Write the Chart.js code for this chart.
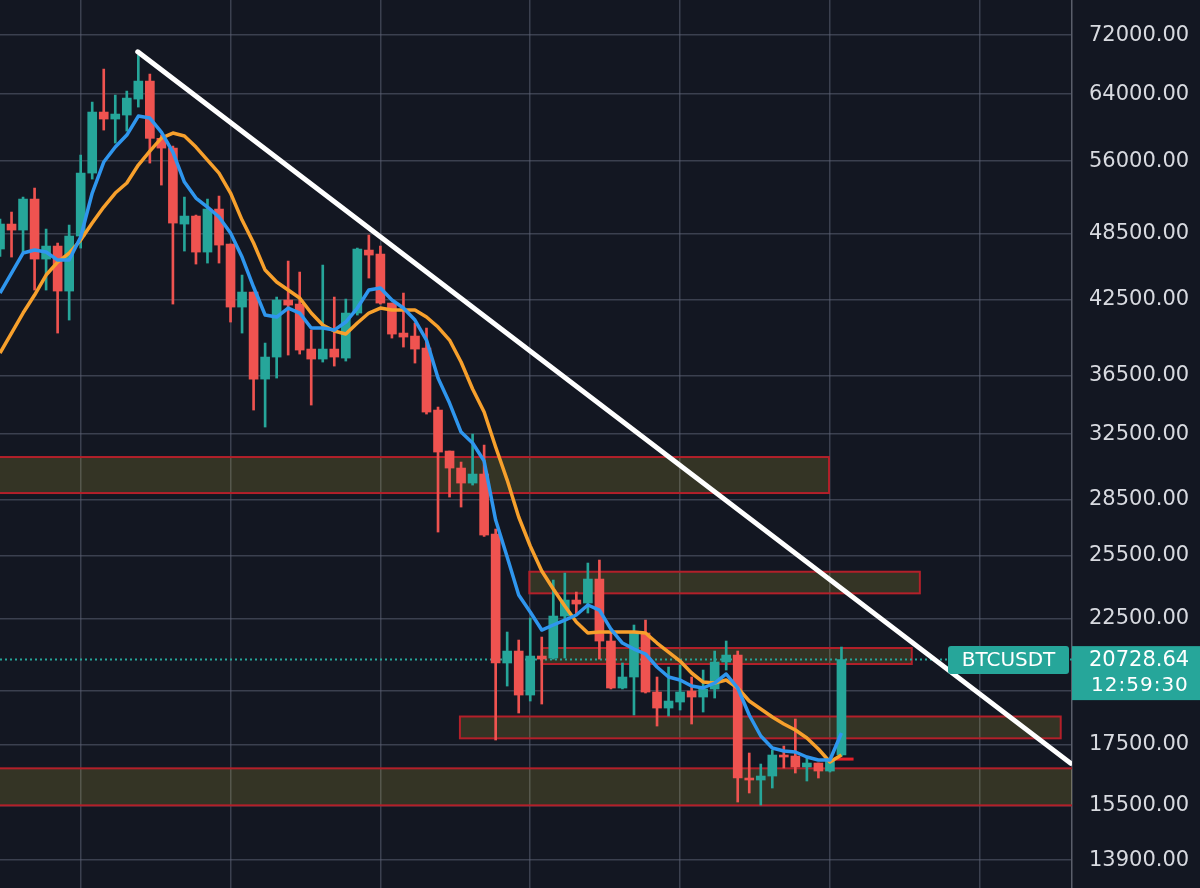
<!DOCTYPE html>
<html><head><meta charset="utf-8">
<script src="https://cdn.jsdelivr.net/npm/chart.js@4.4.1/dist/chart.umd.min.js"></script>
<style>html,body{margin:0;padding:0;background:#131722;overflow:hidden}#wrap{width:1200px;height:888px}canvas{display:block}</style>
</head><body><div id="wrap"><canvas id="c" width="1200" height="888"></canvas></div>
<script>
// Weekly candles (index = week number on the chart)
const opens  = [47000,49396,48810,51921,46068,47277,43221,48230,54683,61757,60901,61389,63375,65691,58603,57477,49396,50191,46715,50897,47466,41864,43135,36265,37892,42452,42115,38501,37741,38501,37816,41366,46902,46529,42199,39749,39512,38578,34093,31417,30370,29475,30009,26626,20589,21086,19315,20877,20794,22610,23343,23204,24341,21511,19587,20022,21857,19431,18821,19048,19470,19239,19548,20630,20918,16370,16305,16435,17138,17104,16733,16867,16600,17138];
const highs  = [49900,50593,52128,53072,48907,47561,49298,56681,62996,67281,63882,64393,69186,66614,59000,57707,52128,50291,51921,52232,47466,44621,43135,38964,42707,45884,44889,39987,45520,42707,42537,47089,48326,47277,42199,43049,40550,40148,34297,31417,30735,32500,31794,26892,21901,21554,22520,21683,24293,24634,23718,25130,25281,21857,20589,22209,22431,20022,20425,20506,20022,20303,21086,21511,21086,17207,16833,17310,17448,18414,17070,16867,17036,21255];
const lows   = [46300,46252,46715,43307,43307,39749,40793,47089,54033,59578,58053,59459,62371,55784,53390,42115,46809,45611,45702,45702,40631,39749,34093,32957,36338,38043,38119,34434,37516,37218,37591,41201,44355,42115,39354,38655,37441,33822,26732,28664,28098,29358,26500,17658,19665,18635,19086,18972,20750,20794,22655,22746,20752,19550,19550,18561,19393,18158,18524,18747,18231,18672,19200,20303,15605,15888,15512,16047,16700,16534,16273,16370,16567,17100];
const closes = [49400,48810,51921,46068,47277,43221,48230,54683,61757,60901,61511,63501,65691,58603,57477,49495,50191,46715,50897,47371,41864,43135,36265,37892,42452,42031,38424,37741,38501,37892,41366,46995,46437,42199,39669,39433,38501,33957,31355,30370,29475,30009,26573,20589,21086,19315,20877,20752,22610,23343,23158,24341,21511,19587,20022,21857,19431,18821,19086,19431,19239,19548,20630,20918,16370,16305,16435,17138,17070,16733,16867,16600,16968,20728.64];
// Moving averages
const blueMA   = [43051,44801,46624,46902,46717,45976,45976,48135,52548,55897,57595,58989,61268,61022,59343,57023,53712,52027,51102,50093,48521,46254,43569,41204,41039,41782,41368,40148,40148,39987,40632,41782,43307,43481,42452,41782,40793,39198,36340,34573,32631,31923,30797,27379,25434,23578,22792,21988,22210,22431,22657,23113,22882,22032,21426,21171,20962,20426,20022,19902,19666,19588,19784,20143,19588,18562,17800,17380,17276,17242,17071,16968,16968,17907];
const orangeMA = [38197,39750,41368,42880,44624,45794,46624,47846,49497,51102,52548,53606,55565,57136,58636,59225,58872,57595,56119,54685,52548,49792,47563,45068,44005,43307,42623,41368,40390,39908,39671,40551,41368,41782,41614,41614,41614,41039,40229,39198,37517,35551,33958,31670,29652,27545,25998,24733,23861,23066,22342,21858,21901,21901,21901,21901,21858,21426,21045,20671,20183,19823,19784,19902,19588,19086,18785,18488,18232,18014,17729,17345,16901,17139];
// Axis ticks
const yTicks = [72000,64000,56000,48500,42500,36500,32500,28500,25500,22500,19500,17500,15500,13900];
const xGridWeeks = [7,20,33,46,59,72,85];
// Last price / label
const lastPrice = 20728.64;
const symbolName = 'BTCUSDT';
const countdown = '12:59:30';
// Trend line (two anchor points: week index, price)
const trendWeeks = [11.95, 92.89];
const trendPrices = [69643, 16857];
// Support/resistance zones
const zoneTop    = [31044, 24698, 21214, 18506, 16689];
const zoneBottom = [28894, 23657, 20548, 17718, 15502];
const zoneStart  = [-1, 45.92, 47.0, 39.9, -1];
const zoneEnd    = [71.92, 79.8, 79.1, 92.02, 95];
// small red marker line
const markWeeks = [72.3, 74.05];
const markPrice = 17000;

const GREEN = '#26a69a', RED = '#ef5350';
const idx = opens.map((_, i) => i);
const isUp = i => closes[i] >= opens[i];

const zonesPlugin = {
  id: 'zones',
  beforeDatasetsDraw(chart) {
    const {ctx, chartArea: a, scales: {x, y}} = chart;
    ctx.save();
    ctx.beginPath(); ctx.rect(a.left, a.top, a.right - a.left, a.bottom - a.top); ctx.clip();
    for (let i = 0; i < zoneTop.length; i++) {
      const x0 = x.getPixelForValue(zoneStart[i]), x1 = x.getPixelForValue(zoneEnd[i]);
      const y0 = y.getPixelForValue(zoneTop[i]), y1 = y.getPixelForValue(zoneBottom[i]);
      ctx.fillStyle = 'rgba(255,235,59,0.14)';
      ctx.fillRect(x0, y0, x1 - x0, y1 - y0);
      ctx.strokeStyle = '#b3202a';
      ctx.lineWidth = 2;
      ctx.strokeRect(x0, y0, x1 - x0, y1 - y0);
    }
    ctx.restore();
  }
};

const labelPlugin = {
  id: 'priceLabel',
  afterDraw(chart) {
    const {ctx, chartArea: a, scales: {y}} = chart;
    const py = y.getPixelForValue(lastPrice);
    ctx.save();
    const w = 121, h = 28, bx = a.right - 3 - w, by = py - 13.5;
    ctx.fillStyle = GREEN;
    ctx.beginPath();
    ctx.roundRect(bx, by, w, h, 3);
    ctx.fill();
    ctx.fillStyle = '#ffffff';
    ctx.font = '20px "DejaVu Sans"';
    ctx.textAlign = 'center'; ctx.textBaseline = 'middle';
    ctx.fillText(symbolName, bx + w / 2, py + 1);
    ctx.fillStyle = GREEN;
    ctx.fillRect(a.right, py - 13.5, chart.width - a.right, 54);
    ctx.fillStyle = '#ffffff';
    ctx.textAlign = 'left';
    ctx.font = '21px "DejaVu Sans"';
    ctx.fillText(lastPrice.toFixed(2), a.right + 17, py + 1);
    ctx.font = '20px "DejaVu Sans"';
    if ('letterSpacing' in ctx) ctx.letterSpacing = '1px';
    ctx.fillText(countdown, a.right + 19, py + 26);
    ctx.restore();
  }
};

const GRID = 'rgba(92,98,116,0.55)';

new Chart(document.getElementById('c'), {
  type: 'bar',
  data: {
    datasets: [
      {type: 'line', label: 'trend', data: trendWeeks.map((w, i) => ({x: w, y: trendPrices[i]})),
       borderColor: '#ffffff', borderWidth: 5, pointRadius: 0, pointHoverRadius: 0, borderCapStyle: 'round', order: 0},
      {type: 'line', label: 'MA fast', data: idx.map(i => ({x: i, y: blueMA[i]})),
       borderColor: '#2f96ee', borderWidth: 3.5, pointRadius: 0, pointHoverRadius: 0, tension: 0, borderJoinStyle: 'round', order: 1},
      {type: 'line', label: 'MA slow', data: idx.map(i => ({x: i, y: orangeMA[i]})),
       borderColor: '#f7a02c', borderWidth: 3.5, pointRadius: 0, pointHoverRadius: 0, tension: 0, borderJoinStyle: 'round', order: 2},
      {type: 'line', label: 'mark', data: markWeeks.map(w => ({x: w, y: markPrice})),
       borderColor: '#e8202a', borderWidth: 3, pointRadius: 0, pointHoverRadius: 0, order: 3},
      {type: 'bar', label: 'body', data: idx.map(i => ({x: i, y: [opens[i], closes[i]]})),
       backgroundColor: idx.map(i => isUp(i) ? GREEN : RED), barThickness: 9, grouped: false, order: 4},
      {type: 'bar', label: 'wick', data: idx.map(i => ({x: i, y: [lows[i], highs[i]]})),
       backgroundColor: idx.map(i => isUp(i) ? GREEN : RED), barThickness: 2, grouped: false, order: 5},
      {type: 'line', label: 'last', data: [{x: 0, y: lastPrice}, {x: 93, y: lastPrice}],
       borderColor: GREEN, borderWidth: 2, borderDash: [2, 3], pointRadius: 0, pointHoverRadius: 0, order: 6}
    ]
  },
  options: {
    responsive: false,
    animation: false,
    devicePixelRatio: 1,
    layout: {padding: 0},
    plugins: {legend: {display: false}, tooltip: {enabled: false}},
    events: [],
    scales: {
      x: {
        type: 'linear', min: 0, max: 93, offset: false,
        afterBuildTicks: s => { s.ticks = xGridWeeks.map(v => ({value: v})); },
        afterFit: s => { s.height = 0; s.paddingLeft = 0; s.paddingRight = 0; },
        ticks: {display: false},
        grid: {color: GRID, lineWidth: 1.5, drawTicks: false, offset: false},
        border: {display: false}
      },
      y: {
        type: 'logarithmic', position: 'right', min: 13147, max: 77216,
        afterBuildTicks: s => { s.ticks = yTicks.map(v => ({value: v})); },
        afterFit: s => { s.width = 128; s.paddingTop = 0; s.paddingBottom = 0; },
        ticks: {
          color: '#d8dae0', padding: 17, font: {family: 'DejaVu Sans', size: 21},
          callback: v => v === 19500 ? '' : Number(v).toFixed(2)
        },
        grid: {color: GRID, lineWidth: 1.5, drawTicks: false},
        border: {display: true, color: '#5a5e6a', width: 1.5}
      }
    }
  },
  plugins: [zonesPlugin, labelPlugin]
});
</script>
</body></html>
